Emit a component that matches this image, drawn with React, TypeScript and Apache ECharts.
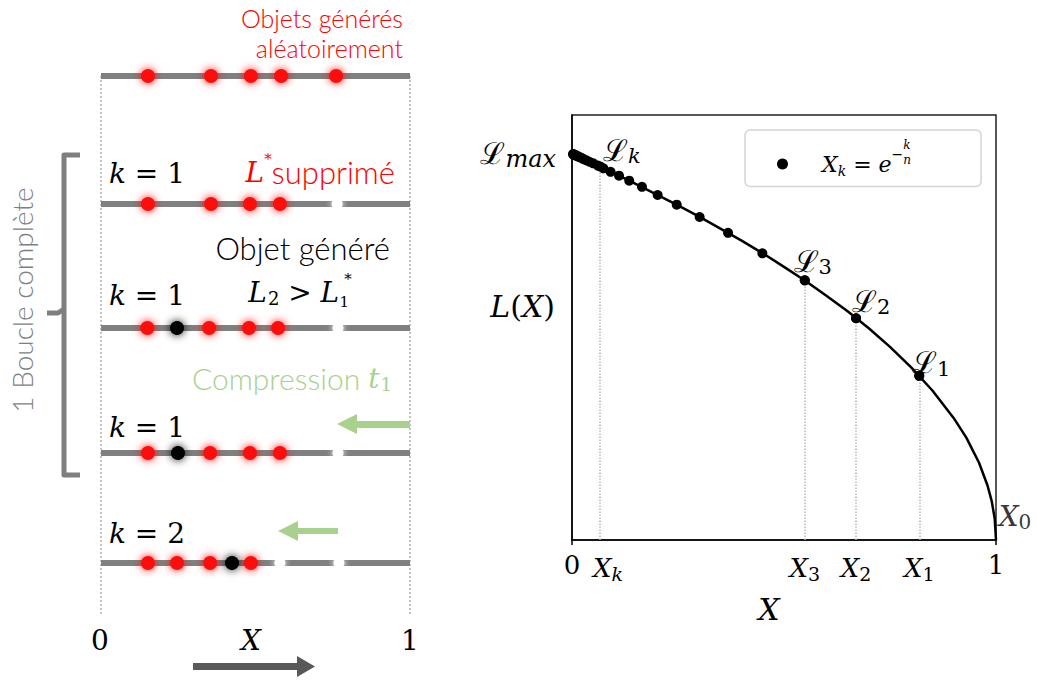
import React, { useEffect, useRef } from 'react';
import * as echarts from 'echarts';

// ---------------- Right panel data ----------------
// Likelihood curve L(X), with L(0) = Lmax = 1 and L(1) = 0
const curveX = [0, 0.05, 0.1, 0.15, 0.2, 0.25, 0.3, 0.35, 0.4, 0.45, 0.5, 0.55, 0.6, 0.65, 0.7, 0.75, 0.8, 0.85, 0.9, 0.93, 0.96, 0.98, 0.99, 0.997, 1];
const curveL = [1, 0.975, 0.949, 0.922, 0.894, 0.866, 0.837, 0.806, 0.775, 0.742, 0.707, 0.671, 0.632, 0.592, 0.548, 0.5, 0.447, 0.387, 0.316, 0.265, 0.2, 0.141, 0.1, 0.055, 0];
// Points X_k = e^{-k/n} (k = 1 ... 30) and their likelihoods
const pointX = [0.819, 0.670, 0.549, 0.449, 0.368, 0.301, 0.247, 0.202, 0.165, 0.135, 0.111, 0.091, 0.074, 0.061, 0.050, 0.041, 0.033, 0.027, 0.022, 0.018, 0.015, 0.012, 0.010, 0.008, 0.007, 0.006, 0.0045, 0.0037, 0.003, 0.0025];
const pointL = [0.425, 0.574, 0.672, 0.742, 0.795, 0.836, 0.868, 0.893, 0.914, 0.930, 0.943, 0.953, 0.962, 0.969, 0.975, 0.979, 0.983, 0.986, 0.989, 0.991, 0.992, 0.994, 0.995, 0.996, 0.996, 0.997, 0.998, 0.998, 0.998, 0.999];
// Highlighted points L_1, L_2, L_3, L_k
const markedX = [0.819, 0.670, 0.549, 0.066];
const markedL = [0.425, 0.574, 0.672, 0.967];
const markedName = ['1', '2', '3', 'k'];
// x-axis tick labels
const xTickValues = [0, 0.066, 0.549, 0.670, 0.819, 1];
const xTickLabels = ['0', 'X_k', 'X_3', 'X_2', 'X_1', '1'];
const yTickValues = [1];
const endPoint = [1, 0];

// ---------------- Left panel data: objects on [0, 1] at each step ----------------
const stepK = ['', '1', '1', '1', '2'];
const redObjects = [
  [0.152, 0.356, 0.485, 0.583, 0.761],
  [0.152, 0.356, 0.482, 0.579],
  [0.150, 0.350, 0.479, 0.573],
  [0.152, 0.353, 0.482, 0.579],
  [0.152, 0.246, 0.353, 0.485],
];
const blackObjects = [[], [], [0.246], [0.249], [0.424]];
const removedObjects = [[], [0.764], [0.767], [0.767], [0.579, 0.770]];

// ---------------- layout / style constants ----------------
const ROW_OFFSET = [0, 128, 252, 377, 487];
const LEFT_SPAN = 539;
const markedLabelOffset = [[12, -13], [15, -17], [8, -19], [22, -16]];
const MATH = "'DejaVu Serif', 'Liberation Serif', serif";
const SANS = "Lato, 'Open Sans', sans-serif";
const RED = '#ff0000';
const GREEN = '#a9d18e';
const GREY = '#7f7f7f';

function buildOption() {
  const axisRich = {
    u: { fontFamily: MATH, fontSize: 26, color: '#000' },
    i: { fontFamily: MATH, fontSize: 26, fontStyle: 'italic', color: '#000' },
    sub: { fontFamily: MATH, fontSize: 19, color: '#000', padding: [12, 0, 0, 0] },
    subi: { fontFamily: MATH, fontSize: 19, fontStyle: 'italic', color: '#000', padding: [12, 0, 0, 0] },
    pad: { width: 16 },
  };
  const xFormatter = (value: number) => {
    const idx = xTickValues.findIndex((v) => Math.abs(v - value) < 1e-6);
    if (idx < 0) return '';
    const lab = xTickLabels[idx];
    if (lab.indexOf('_') < 0) return `{u|${lab}}`;
    const sub = lab.split('_')[1];
    if (/[0-9]/.test(sub)) return `{i|X}{sub|${sub}}`;
    return `{pad| }{i|X}{subi|${sub}}`;
  };

  const series: any[] = [];
  // ----- right panel -----
  series.push({
    type: 'line',
    name: 'curve',
    xAxisIndex: 0,
    yAxisIndex: 0,
    data: curveX.map((x, i) => [x, curveL[i]]),
    showSymbol: false,
    smooth: false,
    lineStyle: { color: '#000', width: 2.5 },
    silent: true,
    z: 3,
  });
  series.push({
    type: 'scatter',
    name: 'Xk',
    xAxisIndex: 0,
    yAxisIndex: 0,
    data: pointX.map((x, i) => [x, pointL[i]]),
    symbolSize: 10,
    itemStyle: { color: '#000', opacity: 1 },
    silent: true,
    z: 4,
  });
  series.push({
    type: 'scatter',
    name: 'marked',
    xAxisIndex: 0,
    yAxisIndex: 0,
    data: markedX.map((x, i) => ({
      value: [x, markedL[i]],
      label: { offset: markedLabelOffset[i] },
    })),
    symbolSize: 10,
    itemStyle: { color: '#000', opacity: 1 },
    label: {
      show: true,
      position: 'inside',
      formatter: (p: any) => {
        const n = markedName[p.dataIndex];
        return /[0-9]/.test(n) ? `{s|ℒ}{sub|${n}}` : `{s|ℒ}{subi|${n}}`;
      },
      rich: {
        s: { fontFamily: MATH, fontSize: 30, color: '#000' },
        sub: { fontFamily: MATH, fontSize: 21, color: '#000', padding: [12, 0, 0, 0] },
        subi: { fontFamily: MATH, fontSize: 21, fontStyle: 'italic', color: '#000', padding: [12, 0, 0, 0] },
      },
    },
    markLine: {
      silent: true,
      symbol: ['none', 'none'],
      label: { show: false },
      lineStyle: { color: '#b8b8b8', width: 1.5, type: 'dotted' },
      data: markedX.map((x, i) => [{ coord: [x, 0] }, { coord: [x, markedL[i]] }]),
    },
    silent: true,
    z: 5,
  });
  series.push({
    type: 'scatter',
    name: 'end',
    xAxisIndex: 0,
    yAxisIndex: 0,
    data: [{ value: endPoint }],
    symbolSize: 1,
    itemStyle: { color: 'rgba(0,0,0,0)' },
    label: {
      show: true,
      position: 'inside',
      offset: [19, -24],
      formatter: () => '{i|X}{sub|0}',
      rich: {
        i: { fontFamily: MATH, fontSize: 28, fontStyle: 'italic', color: '#000' },
        sub: { fontFamily: MATH, fontSize: 20, color: '#000', padding: [12, 0, 0, 0] },
      },
    },
    silent: true,
    z: 5,
  });

  // ----- left panel -----
  [0, 1].forEach((x) => {
    series.push({
      type: 'line',
      xAxisIndex: 1,
      yAxisIndex: 1,
      data: [[x, 0], [x, LEFT_SPAN]],
      showSymbol: false,
      lineStyle: { color: '#c4c4c4', width: 2, type: 'dotted' },
      silent: true,
      z: 1,
    });
  });
  ROW_OFFSET.forEach((r) => {
    series.push({
      type: 'line',
      xAxisIndex: 1,
      yAxisIndex: 1,
      data: [[0, r], [1, r]],
      showSymbol: false,
      lineStyle: { color: '#808080', width: 6 },
      silent: true,
      z: 2,
    });
  });
  const flat = (rows: number[][]) => {
    const out: number[][] = [];
    rows.forEach((row, i) => row.forEach((x) => out.push([x, ROW_OFFSET[i]])));
    return out;
  };
  series.push({
    type: 'scatter',
    name: 'removed',
    xAxisIndex: 1,
    yAxisIndex: 1,
    data: flat(removedObjects),
    symbolSize: 11,
    itemStyle: { color: '#ffffff', shadowBlur: 6, shadowColor: '#ffffff', opacity: 1 },
    silent: true,
    z: 3,
  });
  series.push({
    type: 'scatter',
    name: 'red',
    xAxisIndex: 1,
    yAxisIndex: 1,
    data: flat(redObjects),
    symbolSize: 14,
    itemStyle: { color: '#ff0a0a', shadowBlur: 9, shadowColor: 'rgba(255,0,0,0.95)', opacity: 1 },
    silent: true,
    z: 4,
  });
  series.push({
    type: 'scatter',
    name: 'black',
    xAxisIndex: 1,
    yAxisIndex: 1,
    data: flat(blackObjects),
    symbolSize: 14,
    itemStyle: { color: '#000', shadowBlur: 9, shadowColor: 'rgba(0,0,0,0.95)', opacity: 1 },
    silent: true,
    z: 4,
  });

  // ----- annotations (left panel texts, arrows, bracket) -----
  const mathRich = (color: string, sansSize: number) => ({
    i: { fontFamily: MATH, fontStyle: 'italic', fontSize: 28, fill: color },
    u: { fontFamily: MATH, fontSize: 28, fill: color },
    sub: { fontFamily: MATH, fontSize: 18, fill: color, padding: [13, 0, 0, 1] },
    sub0: { fontFamily: MATH, fontSize: 15, fill: color, padding: [20, 0, 0, 5], width: 0 },
    sup: { fontFamily: MATH, fontSize: 15, fill: color, padding: [0, 0, 27, 0] },
    t: { fontFamily: SANS, fontSize: sansSize, fontWeight: 300, fill: color },
  });
  const kY = [0, 173, 295, 427, 533];
  const graphic: any[] = [
    { type: 'text', x: 403, y: 18, style: { text: 'Objets générés', fill: RED, fontFamily: SANS, fontWeight: 300, fontSize: 25, align: 'right', verticalAlign: 'middle' } },
    { type: 'text', x: 403, y: 48, style: { text: 'aléatoirement', fill: RED, fontFamily: SANS, fontWeight: 300, fontSize: 25, align: 'right', verticalAlign: 'middle' } },
    { type: 'text', x: 395, y: 172, style: { text: '{i|L}{sup|*}{t|supprimé}', rich: mathRich(RED, 31), align: 'right', verticalAlign: 'middle' } },
    { type: 'text', x: 390, y: 248, style: { text: 'Objet généré', fill: '#000', fontFamily: SANS, fontWeight: 300, fontSize: 31, align: 'right', verticalAlign: 'middle' } },
    { type: 'text', x: 300, y: 292, style: { text: '{i|L}{sub|2}{u| > }{i|L}{sub0|1}{sup|*}', rich: mathRich('#000', 30), align: 'center', verticalAlign: 'middle' } },
    { type: 'text', x: 392, y: 378, style: { text: '{t|Compression }{i|t}{sub|1}', rich: mathRich(GREEN, 30), align: 'right', verticalAlign: 'middle' } },
    { type: 'text', x: 100, y: 640, style: { text: '0', fill: '#000', fontFamily: MATH, fontSize: 28, align: 'center', verticalAlign: 'middle' } },
    { type: 'text', x: 251, y: 640, style: { text: 'X', fill: '#000', fontFamily: MATH, fontStyle: 'italic', fontSize: 28, align: 'center', verticalAlign: 'middle' } },
    { type: 'text', x: 410, y: 640, style: { text: '1', fill: '#000', fontFamily: MATH, fontSize: 28, align: 'center', verticalAlign: 'middle' } },
    { type: 'text', x: 22, y: 300, rotation: Math.PI / 2, style: { text: '1 Boucle complète', fill: GREY, fontFamily: SANS, fontWeight: 300, fontSize: 28, align: 'center', verticalAlign: 'middle' } },
    // arrows
    { type: 'polygon', shape: { points: [[337, 424], [357, 414], [357, 421], [410, 421], [410, 428], [357, 428], [357, 434]] }, style: { fill: GREEN } },
    { type: 'polygon', shape: { points: [[278, 531], [298, 521], [298, 528], [338, 528], [338, 534], [298, 534], [298, 541]] }, style: { fill: GREEN } },
    { type: 'polygon', shape: { points: [[193, 663], [297, 663], [297, 656], [315, 666.5], [297, 677], [297, 670], [193, 670]] }, style: { fill: '#595959' } },
    // bracket
    { type: 'polyline', shape: { points: [[80, 155], [64, 155], [64, 475], [80, 475]] }, style: { stroke: GREY, lineWidth: 5, fill: 'none', lineJoin: 'round' } },
    { type: 'polyline', shape: { points: [[47, 313], [58, 313], [64, 309]] }, style: { stroke: GREY, lineWidth: 5, fill: 'none', lineJoin: 'round' } },
  ];
  stepK.forEach((k, i) => {
    if (!k) return;
    graphic.push({ type: 'text', x: 109, y: kY[i], style: { text: `{i|k}{u| = ${k}}`, rich: mathRich('#000', 28), align: 'left', verticalAlign: 'middle' } });
  });

  return {
    animation: false,
    backgroundColor: '#ffffff',
    grid: [
      { left: 572, top: 115, width: 424, height: 425, show: true, borderColor: '#222', borderWidth: 1.5, backgroundColor: 'transparent' },
      { left: 101, top: 76, width: 309, height: LEFT_SPAN, show: false },
    ],
    xAxis: [
      {
        type: 'value',
        gridIndex: 0,
        min: 0,
        max: 1,
        name: '{i|X}',
        nameLocation: 'middle',
        nameGap: 54,
        nameMoveOverlap: false,
        nameTextStyle: { padding: [0, 30, 0, 0], rich: { i: { fontFamily: MATH, fontSize: 30, fontStyle: 'italic', color: '#000' } } },
        axisLine: { show: true, lineStyle: { color: '#000', width: 1.5 } },
        axisTick: { show: true, customValues: [0, 1], length: 5, lineStyle: { color: '#000', width: 1.5 } },
        axisLabel: { show: true, customValues: xTickValues, formatter: xFormatter, margin: 12, rich: axisRich },
        splitLine: { show: false },
      },
      { type: 'value', gridIndex: 1, min: 0, max: 1, show: false, splitLine: { show: false } },
    ],
    yAxis: [
      {
        type: 'value',
        gridIndex: 0,
        min: 0,
        max: 1.1,
        name: '{i|L}{u|(}{i|X}{u|)}',
        nameLocation: 'middle',
        nameRotate: 0,
        nameGap: 17,
        nameMoveOverlap: false,
        nameTextStyle: {
          padding: [0, 0, 43, 0],
          rich: {
            i: { fontFamily: MATH, fontSize: 30, fontStyle: 'italic', color: '#000' },
            u: { fontFamily: MATH, fontSize: 30, color: '#000' },
          },
        },
        axisLine: { show: true, lineStyle: { color: '#000', width: 1.5 } },
        axisTick: { show: false },
        axisLabel: {
          show: true,
          customValues: yTickValues,
          margin: 16,
          formatter: () => '{s|ℒ}{m|max}',
          rich: {
            s: { fontFamily: MATH, fontSize: 30, color: '#000' },
            m: { fontFamily: MATH, fontSize: 24, fontStyle: 'italic', color: '#000', padding: [10, 0, 0, 0] },
          },
        },
        splitLine: { show: false },
      },
      { type: 'value', gridIndex: 1, min: 0, max: LEFT_SPAN, inverse: true, show: false, splitLine: { show: false } },
    ],
    legend: {
      show: true,
      data: ['Xk'],
      left: 745,
      top: 130,
      icon: 'circle',
      itemWidth: 11,
      itemHeight: 11,
      selectedMode: false,
      borderColor: '#d4d4d4',
      borderWidth: 1.5,
      borderRadius: 5,
      padding: [9, 70, 9, 32],
      formatter: () => '{g| }{i|X}{sub|k}{t| = }{i|e}{sup|−}{fk|k}{fn|n}',
      textStyle: {
        rich: {
          g: { width: 29 },
          i: { fontFamily: MATH, fontSize: 22, fontStyle: 'italic', color: '#000' },
          sub: { fontFamily: MATH, fontSize: 14, fontStyle: 'italic', color: '#000', padding: [13, 0, 0, 0] },
          t: { fontFamily: MATH, fontSize: 22, color: '#000' },
          sup: { fontFamily: MATH, fontSize: 14, color: '#000', padding: [0, 0, 20, 0] },
          fk: { fontFamily: MATH, fontSize: 12, fontStyle: 'italic', color: '#000', padding: [0, 0, 38, 0], width: 0 },
          fn: { fontFamily: MATH, fontSize: 12, fontStyle: 'italic', color: '#000', padding: [0, 0, 8, 0] },
        },
      },
    },
    graphic,
    series,
  };
}

export default function App() {
  const ref = useRef<HTMLDivElement>(null);
  useEffect(() => {
    document.body.style.margin = '0';
    if (!ref.current) return;
    const chart = echarts.init(ref.current, undefined, { renderer: 'svg' });
    chart.setOption(buildOption() as any);
    return () => chart.dispose();
  }, []);
  return <div ref={ref} style={{ width: 1037, height: 680, overflow: 'hidden', background: '#fff' }} />;
}
